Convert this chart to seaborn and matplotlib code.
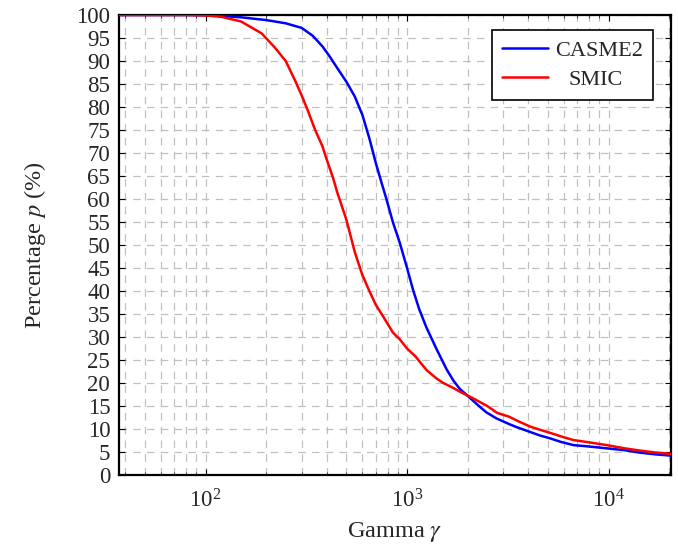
import numpy as np
import pandas as pd
import matplotlib
matplotlib.use("Agg")
import matplotlib.pyplot as plt
from matplotlib.ticker import LogLocator, MultipleLocator, NullFormatter
import seaborn as sns

# Percentage of samples remaining as gamma grows
casme2_gamma = [37, 80, 100, 120, 150, 200, 250, 300, 340, 380, 410, 450, 500, 550,
                600, 650, 700, 750, 790, 850, 920, 1000, 1070, 1150, 1250, 1400, 1570,
                1700, 1830, 2000, 2120, 2300, 2480, 2780, 3200, 3500, 4060, 4560,
                5100, 5800, 6700, 8000, 9800, 12000, 14400, 17000, 20600]
casme2_pct = [100, 100, 99.95, 99.8, 99.5, 98.9, 98.2, 97.2, 95.5, 93.2, 91.2, 88.5, 85.5, 82.3,
              78.3, 73.2, 67.8, 63.3, 60, 55, 50.5, 45, 40.3, 36, 32, 27.4, 23,
              20.5, 18.7, 17.2, 16.2, 14.8, 13.6, 12.3, 11.1, 10.4, 9.4, 8.6,
              8.0, 7.2, 6.5, 6.2, 5.8, 5.4, 4.85, 4.5, 4.2]

smic_gamma = [37, 80, 100, 120, 150, 190, 220, 250, 280, 300, 320, 350, 380, 400, 430,
              450, 500, 550, 600, 650, 700, 760, 850, 920, 1000, 1100, 1250, 1400,
              1500, 1700, 1850, 2100, 2500, 2800, 3200, 3600, 4100, 4600, 5100,
              6000, 6700, 8000, 9800, 12000, 14400, 17000, 20600]
smic_pct = [100, 100, 99.9, 99.6, 98.6, 96, 93, 90, 85.5, 82.5, 79.5, 75, 71.5, 68.5, 64.5,
            61.5, 55.5, 48.5, 43.5, 40, 37, 34.5, 31, 29.5, 27.5, 25.8, 22.8, 21,
            20.1, 18.9, 18, 16.8, 15, 13.5, 12.7, 11.6, 10.5, 9.8, 9.2,
            8.2, 7.6, 7.1, 6.5, 5.8, 5.3, 4.9, 4.6]

series_names = ["CASME2", "SMIC"]
series_colors = {"CASME2": "#0000ff", "SMIC": "#ff0000"}

df = pd.concat([
    pd.DataFrame({"gamma": casme2_gamma, "pct": casme2_pct, "dataset": "CASME2"}),
    pd.DataFrame({"gamma": smic_gamma, "pct": smic_pct, "dataset": "SMIC"}),
], ignore_index=True)

sns.set_style("ticks")
plt.rcParams["font.family"] = ["Liberation Serif", "DejaVu Serif"]
plt.rcParams["mathtext.fontset"] = "stix"
plt.rcParams["xtick.direction"] = "in"
plt.rcParams["ytick.direction"] = "in"

fig = plt.figure(figsize=(6.78, 5.46), dpi=100)
ax = fig.add_axes([0.1748, 0.130, 0.8142, 0.8425])

sns.lineplot(data=df, x="gamma", y="pct", hue="dataset", hue_order=series_names,
             palette=series_colors, linewidth=1.8, ax=ax, sort=True,
             estimator=None, zorder=3)

ax.set_xscale("log")
ax.set_xlim(37, 20300)
ax.set_ylim(0, 100)

ax.xaxis.set_major_locator(LogLocator(base=10, numticks=10))
ax.xaxis.set_minor_locator(LogLocator(base=10, subs=np.arange(2, 10), numticks=20))
ax.xaxis.set_minor_formatter(NullFormatter())
ax.yaxis.set_major_locator(MultipleLocator(5))

grid_kw = dict(color="#c0c0c0", linewidth=0.9, linestyle=(0, (6, 5)))
ax.grid(True, which="major", axis="both", **grid_kw)
ax.grid(True, which="minor", axis="x", **grid_kw)
ax.set_axisbelow(True)

ax.tick_params(axis="both", which="major", labelsize=16.5, length=4.5, width=0.8,
               top=True, right=True, pad=6, color="black")
ax.tick_params(axis="x", which="major", pad=10)
ax.tick_params(axis="x", which="minor", length=2.5, width=0.6, top=True)

for side in ax.spines.values():
    side.set_linewidth(1.6)
    side.set_color("black")

ax.set_xlabel(r"Gamma $\gamma$", fontsize=17.5, labelpad=6)
ax.set_ylabel(r"Percentage $p$ (%)", fontsize=17.5, labelpad=20)

leg = ax.legend(loc="upper right", bbox_to_anchor=(0.968, 0.967), borderaxespad=0,
                fontsize=16, frameon=True, fancybox=False, framealpha=1,
                edgecolor="black", handlelength=2.1, handletextpad=0.3,
                labelspacing=0.4, borderpad=0.45)
leg.get_frame().set_linewidth(1.2)
leg.get_texts()[1].set_x(13)

fig.savefig("out.png", dpi=100)
